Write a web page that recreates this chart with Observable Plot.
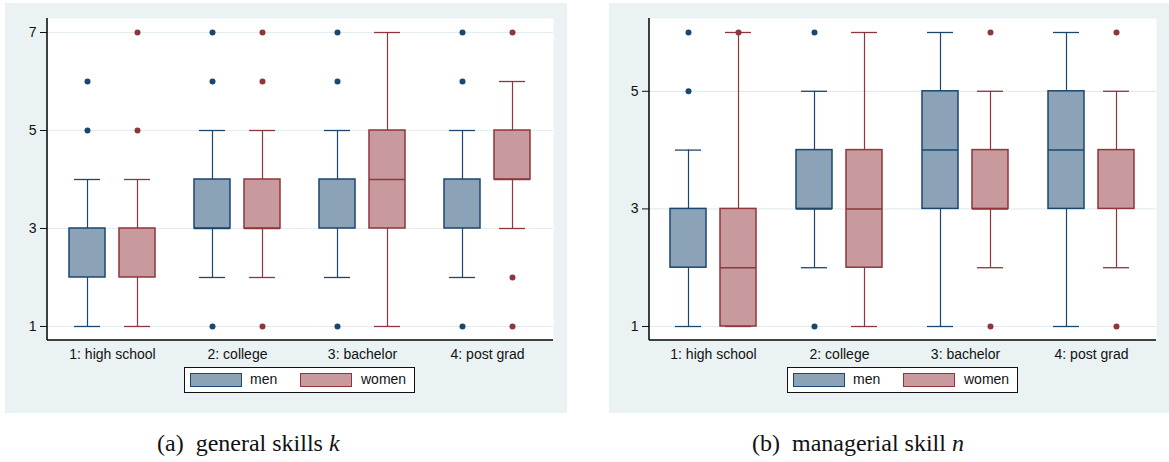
<!DOCTYPE html>
<html>
<head>
<meta charset="utf-8">
<script src="https://cdn.jsdelivr.net/npm/d3@7"></script>
<script src="https://cdn.jsdelivr.net/npm/@observablehq/plot@0.6"></script>
<style>
  html, body { margin: 0; padding: 0; background: #ffffff; }
  #page { position: relative; width: 1169px; height: 462px; overflow: hidden; font-family: "Liberation Sans", Arial, sans-serif; }
  .panel { position: absolute; top: 3px; height: 410px; background: #eaf2f3; }
  .panel svg { position: absolute; left: 0; top: 0; }
  .legend { position: absolute; top: 364px; width: 229px; height: 24px; background: #fff; border: 1.5px solid #111; }
  .sw { position: absolute; top: 5px; width: 50px; height: 12px; }
  .lt { position: absolute; top: 3px; font-size: 14px; line-height: 16px; color: #111; }
  .cap { position: absolute; top: 431px; font-family: "Liberation Serif", "Times New Roman", serif; font-size: 24px; line-height: 1; color: #111; white-space: nowrap; }
</style>
</head>
<body>
<div id="page">
  <div class="panel" id="pa" style="left:5px;width:562px;"></div>
  <div class="panel" id="pb" style="left:609px;width:560px;"></div>
  <div class="cap" style="left:157px;">(a)&nbsp; general skills <i>k</i></div>
  <div class="cap" style="left:752px;">(b)&nbsp; managerial skill <i>n</i></div>
</div>
<script>
// ---------- data ----------
const groups = ["1: high school", "2: college", "3: bachelor", "4: post grad"];
const sexes = ["men", "women"];

// (a) general skills k
const kMenLo  = [1, 2, 2, 2];
const kMenQ1  = [2, 3, 3, 3];
const kMenMed = [null, 3, null, null];
const kMenQ3  = [3, 4, 4, 4];
const kMenHi  = [4, 5, 5, 5];
const kMenOut = [[5, 6], [1, 6, 7], [1, 6, 7], [1, 6, 7]];

const kWomenLo  = [1, 2, 1, 3];
const kWomenQ1  = [2, 3, 3, 4];
const kWomenMed = [null, 3, 4, 4];
const kWomenQ3  = [3, 4, 5, 5];
const kWomenHi  = [4, 5, 7, 6];
const kWomenOut = [[5, 7], [1, 6, 7], [], [1, 2, 7]];

const kTicks = [1, 3, 5, 7];

// (b) managerial skill n
const nMenLo  = [1, 2, 1, 1];
const nMenQ1  = [2, 3, 3, 3];
const nMenMed = [null, 3, 4, 4];
const nMenQ3  = [3, 4, 5, 5];
const nMenHi  = [4, 5, 6, 6];
const nMenOut = [[5, 6], [1, 6], [], []];

const nWomenLo  = [1, 1, 2, 2];
const nWomenQ1  = [1, 2, 3, 3];
const nWomenMed = [2, 3, 3, null];
const nWomenQ3  = [3, 4, 4, 4];
const nWomenHi  = [6, 6, 5, 5];
const nWomenOut = [[6], [], [1, 6], [1, 6]];

const nTicks = [1, 3, 5];

// ---------- styles ----------
const strokeColor = {men: "#1a476f", women: "#90353b"};
const fillColor = {men: "#8ca3b7", women: "#c89a9d"};
const offset = {men: -25, women: 25};

function rowsOf(sex, lo, q1, med, q3, hi) {
  return groups.map((g, i) => ({group: g, sex, lo: lo[i], q1: q1[i], med: med[i], q3: q3[i], hi: hi[i]}));
}
function outsOf(sex, out) {
  return groups.flatMap((g, i) => out[i].map(v => ({group: g, sex, v})));
}

function seriesMarks(sex, rows, outs) {
  const s = strokeColor[sex], f = fillColor[sex], dx = offset[sex];
  return [
    Plot.ruleX(rows, {x: "group", y1: "q3", y2: "hi", stroke: s, strokeWidth: 1.2, dx}),
    Plot.ruleX(rows, {x: "group", y1: "lo", y2: "q1", stroke: s, strokeWidth: 1.2, dx}),
    Plot.tickY(rows, {x: "group", y: "hi", stroke: s, strokeWidth: 1.3, insetLeft: 5, insetRight: 5, dx}),
    Plot.tickY(rows, {x: "group", y: "lo", stroke: s, strokeWidth: 1.3, insetLeft: 5, insetRight: 5, dx}),
    Plot.barY(rows, {x: "group", y1: "q1", y2: "q3", fill: f, stroke: s, strokeWidth: 1.5, dx}),
    Plot.tickY(rows.filter(d => d.med != null), {x: "group", y: "med", stroke: s, strokeWidth: 1.5, dx}),
    Plot.dot(outs, {x: "group", y: "v", fill: s, stroke: "none", r: 3, dx})
  ];
}

function axisLines(index, scales, values, dimensions) {
  const {width, height, marginLeft, marginRight, marginTop, marginBottom} = dimensions;
  const g = d3.create("svg:g").attr("stroke", "#000").attr("stroke-width", 1.5);
  g.append("line").attr("x1", marginLeft).attr("x2", marginLeft).attr("y1", marginTop).attr("y2", height - marginBottom);
  g.append("line").attr("x1", marginLeft).attr("x2", width - marginRight).attr("y1", height - marginBottom).attr("y2", height - marginBottom);
  return g.node();
}

function panel(opts) {
  const {width, marginLeft, marginRight, yDomain, ticks, men, women} = opts;
  return Plot.plot({
    width, height: 370,
    marginLeft, marginRight, marginTop: 15, marginBottom: 33,
    style: {background: "transparent", fontSize: "14px", fontFamily: "'Liberation Sans', Arial, sans-serif", color: "#111"},
    x: {type: "band", domain: groups, paddingInner: 0.712, paddingOuter: 0.367, label: null, tickSize: 0, tickPadding: 9},
    y: {domain: yDomain, ticks, tickSize: 7, tickPadding: 4, label: null, tickFormat: d => String(d)},
    marks: [
      Plot.frame({fill: "white", stroke: "none"}),
      Plot.ruleY(ticks, {stroke: "#e3ecef", strokeWidth: 1.2}),
      ...seriesMarks("men", men.rows, men.outs),
      ...seriesMarks("women", women.rows, women.outs),
      axisLines
    ]
  });
}

function legend(container, left) {
  const lg = document.createElement("div");
  lg.className = "legend";
  lg.style.left = left + "px";
  const items = [["men", 5, 65], ["women", 115, 176]];
  for (const [sex, sx, tx] of items) {
    const sw = document.createElement("div");
    sw.className = "sw";
    sw.style.left = sx + "px";
    sw.style.background = fillColor[sex];
    sw.style.border = "1.5px solid " + strokeColor[sex];
    lg.appendChild(sw);
    const t = document.createElement("div");
    t.className = "lt";
    t.style.left = tx + "px";
    t.textContent = sex;
    lg.appendChild(t);
  }
  container.appendChild(lg);
}

const pa = document.getElementById("pa");
pa.appendChild(panel({
  width: 562, marginLeft: 42, marginRight: 14,
  yDomain: [0.714, 7.286], ticks: kTicks,
  men: {rows: rowsOf("men", kMenLo, kMenQ1, kMenMed, kMenQ3, kMenHi), outs: outsOf("men", kMenOut)},
  women: {rows: rowsOf("women", kWomenLo, kWomenQ1, kWomenMed, kWomenQ3, kWomenHi), outs: outsOf("women", kWomenOut)}
}));
legend(pa, 179);

const pb = document.getElementById("pb");
pb.appendChild(panel({
  width: 560, marginLeft: 40, marginRight: 13,
  yDomain: [0.762, 6.238], ticks: nTicks,
  men: {rows: rowsOf("men", nMenLo, nMenQ1, nMenMed, nMenQ3, nMenHi), outs: outsOf("men", nMenOut)},
  women: {rows: rowsOf("women", nWomenLo, nWomenQ1, nWomenMed, nWomenQ3, nWomenHi), outs: outsOf("women", nWomenOut)}
}));
legend(pb, 178);
</script>
</body>
</html>
